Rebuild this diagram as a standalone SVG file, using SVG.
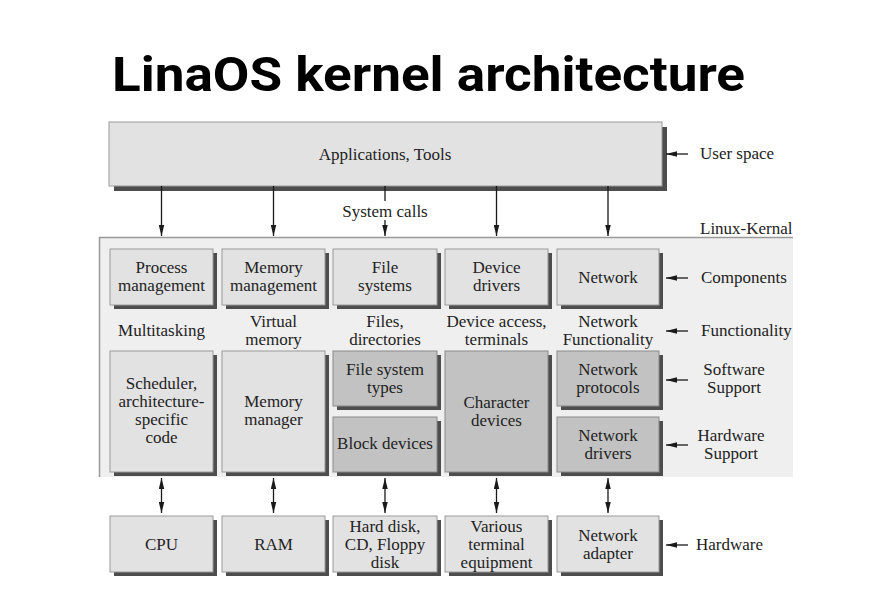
<svg xmlns="http://www.w3.org/2000/svg" width="890" height="603" viewBox="0 0 890 603">
<defs>
<marker id="ah" viewBox="0 0 12 6" markerWidth="11" markerHeight="6" refX="12" refY="3" orient="auto-start-reverse" markerUnits="userSpaceOnUse">
<path d="M0,0 L12,3 L0,6 z" fill="#1a1a1a"/>
</marker>
<style>
.t{font-family:"Liberation Serif","Times New Roman",serif;font-size:17px;fill:#222;text-anchor:middle}
.l{font-family:"Liberation Serif","Times New Roman",serif;font-size:17px;fill:#222}
.sh{fill:#4d4d4d}
.bx{fill:#e2e2e2;stroke:#9a9a9a;stroke-width:1}
.dk{fill:#c2c2c2;stroke:#8a8a8a;stroke-width:1}
.ln{stroke:#1a1a1a;stroke-width:1.3;fill:none}
</style>
</defs>
<rect width="890" height="603" fill="#ffffff"/>
<text x="112" y="91" font-family="Roboto,'Liberation Sans',Arial,sans-serif" font-weight="bold" font-size="49" fill="#000" textLength="633" lengthAdjust="spacingAndGlyphs">LinaOS kernel architecture</text>

<g id="kernel-area">
<rect x="99" y="237" width="694" height="240" fill="#efefef"/>
<path d="M99.5,477 V237.5 H793" stroke="#9a9a9a" stroke-width="1.5" fill="none"/>
<text class="l" x="700" y="234">Linux-Kernal</text>
</g>

<g id="applications">
<rect class="sh" x="114" y="127" width="553" height="64"/>
<rect class="bx" x="109" y="122" width="553" height="64"/>
<text class="t" x="385" y="160">Applications, Tools</text>
</g>

<g id="connectors">
<line class="ln" x1="161.5" y1="186" x2="161.5" y2="236" marker-end="url(#ah)"/>
<line class="ln" x1="273.5" y1="186" x2="273.5" y2="236" marker-end="url(#ah)"/>
<line class="ln" x1="385" y1="186" x2="385" y2="236" marker-end="url(#ah)"/>
<line class="ln" x1="496.5" y1="186" x2="496.5" y2="236" marker-end="url(#ah)"/>
<line class="ln" x1="608" y1="186" x2="608" y2="236" marker-end="url(#ah)"/>
<line class="ln" x1="161.5" y1="478" x2="161.5" y2="513" marker-start="url(#ah)" marker-end="url(#ah)"/>
<line class="ln" x1="273.5" y1="478" x2="273.5" y2="513" marker-start="url(#ah)" marker-end="url(#ah)"/>
<line class="ln" x1="385" y1="478" x2="385" y2="513" marker-start="url(#ah)" marker-end="url(#ah)"/>
<line class="ln" x1="496.5" y1="478" x2="496.5" y2="513" marker-start="url(#ah)" marker-end="url(#ah)"/>
<line class="ln" x1="608" y1="478" x2="608" y2="513" marker-start="url(#ah)" marker-end="url(#ah)"/>
<line class="ln" x1="688" y1="154" x2="666" y2="154" marker-end="url(#ah)"/>
<line class="ln" x1="688" y1="278" x2="666" y2="278" marker-end="url(#ah)"/>
<line class="ln" x1="688" y1="331" x2="666" y2="331" marker-end="url(#ah)"/>
<line class="ln" x1="688" y1="380" x2="666" y2="380" marker-end="url(#ah)"/>
<line class="ln" x1="688" y1="445" x2="666" y2="445" marker-end="url(#ah)"/>
<line class="ln" x1="688" y1="545" x2="666" y2="545" marker-end="url(#ah)"/>
</g>

<g id="system-calls">
<rect x="340" y="201" width="90" height="19" fill="#ffffff"/>
<text class="t" x="385" y="217">System calls</text>
</g>

<g id="process-management">
<rect class="sh" x="114" y="253" width="103" height="56"/>
<rect class="bx" x="110" y="249" width="103" height="56"/>
<text class="t" x="161.5" y="273">Process</text>
<text class="t" x="161.5" y="291">management</text>
</g>
<g id="memory-management">
<rect class="sh" x="226" y="253" width="103" height="56"/>
<rect class="bx" x="222" y="249" width="103" height="56"/>
<text class="t" x="273.5" y="273">Memory</text>
<text class="t" x="273.5" y="291">management</text>
</g>
<g id="file-systems">
<rect class="sh" x="337" y="253" width="104" height="56"/>
<rect class="bx" x="333" y="249" width="104" height="56"/>
<text class="t" x="385" y="273">File</text>
<text class="t" x="385" y="291">systems</text>
</g>
<g id="device-drivers">
<rect class="sh" x="449" y="253" width="103" height="56"/>
<rect class="bx" x="445" y="249" width="103" height="56"/>
<text class="t" x="496.5" y="273">Device</text>
<text class="t" x="496.5" y="291">drivers</text>
</g>
<g id="network">
<rect class="sh" x="561" y="253" width="102" height="56"/>
<rect class="bx" x="557" y="249" width="102" height="56"/>
<text class="t" x="608" y="283">Network</text>
</g>

<g id="functionality-labels">
<text class="t" x="161.5" y="336">Multitasking</text>
<text class="t" x="273.5" y="327">Virtual</text>
<text class="t" x="273.5" y="345">memory</text>
<text class="t" x="385" y="327">Files,</text>
<text class="t" x="385" y="345">directories</text>
<text class="t" x="496.5" y="327">Device access,</text>
<text class="t" x="496.5" y="345">terminals</text>
<text class="t" x="608" y="327">Network</text>
<text class="t" x="608" y="345">Functionality</text>
</g>

<g id="scheduler">
<rect class="sh" x="114" y="355" width="103" height="121"/>
<rect class="bx" x="110" y="351" width="103" height="121"/>
<text class="t" x="161.5" y="389">Scheduler,</text>
<text class="t" x="161.5" y="407">architecture-</text>
<text class="t" x="161.5" y="425">specific</text>
<text class="t" x="161.5" y="443">code</text>
</g>
<g id="memory-manager">
<rect class="sh" x="226" y="355" width="103" height="121"/>
<rect class="bx" x="222" y="351" width="103" height="121"/>
<text class="t" x="273.5" y="407">Memory</text>
<text class="t" x="273.5" y="425">manager</text>
</g>
<g id="file-system-types">
<rect class="sh" x="337" y="355" width="104" height="55"/>
<rect class="dk" x="333" y="351" width="104" height="55"/>
<text class="t" x="385" y="375">File system</text>
<text class="t" x="385" y="393">types</text>
</g>
<g id="block-devices">
<rect class="sh" x="337" y="421" width="104" height="55"/>
<rect class="dk" x="333" y="417" width="104" height="55"/>
<text class="t" x="385" y="449">Block devices</text>
</g>
<g id="character-devices">
<rect class="sh" x="449" y="355" width="103" height="121"/>
<rect class="dk" x="445" y="351" width="103" height="121"/>
<text class="t" x="496.5" y="408">Character</text>
<text class="t" x="496.5" y="426">devices</text>
</g>
<g id="network-protocols">
<rect class="sh" x="561" y="355" width="102" height="55"/>
<rect class="dk" x="557" y="351" width="102" height="55"/>
<text class="t" x="608" y="375">Network</text>
<text class="t" x="608" y="393">protocols</text>
</g>
<g id="network-drivers">
<rect class="sh" x="561" y="421" width="102" height="55"/>
<rect class="dk" x="557" y="417" width="102" height="55"/>
<text class="t" x="608" y="441">Network</text>
<text class="t" x="608" y="459">drivers</text>
</g>

<g id="cpu">
<rect class="sh" x="114" y="520" width="103" height="56"/>
<rect class="bx" x="110" y="516" width="103" height="56"/>
<text class="t" x="161.5" y="550">CPU</text>
</g>
<g id="ram">
<rect class="sh" x="226" y="520" width="103" height="56"/>
<rect class="bx" x="222" y="516" width="103" height="56"/>
<text class="t" x="273.5" y="550">RAM</text>
</g>
<g id="hard-disk">
<rect class="sh" x="337" y="520" width="104" height="56"/>
<rect class="bx" x="333" y="516" width="104" height="56"/>
<text class="t" x="385" y="532">Hard disk,</text>
<text class="t" x="385" y="550">CD, Floppy</text>
<text class="t" x="385" y="568">disk</text>
</g>
<g id="terminal-equipment">
<rect class="sh" x="449" y="520" width="103" height="56"/>
<rect class="bx" x="445" y="516" width="103" height="56"/>
<text class="t" x="496.5" y="532">Various</text>
<text class="t" x="496.5" y="550">terminal</text>
<text class="t" x="496.5" y="568">equipment</text>
</g>
<g id="network-adapter">
<rect class="sh" x="561" y="520" width="102" height="56"/>
<rect class="bx" x="557" y="516" width="102" height="56"/>
<text class="t" x="608" y="541">Network</text>
<text class="t" x="608" y="559">adapter</text>
</g>

<g id="side-labels">
<text class="l" x="700" y="159">User space</text>
<text class="l" x="701" y="283">Components</text>
<text class="l" x="701" y="336">Functionality</text>
<text class="t" x="734" y="375">Software</text>
<text class="t" x="734" y="393">Support</text>
<text class="t" x="731" y="441">Hardware</text>
<text class="t" x="731" y="459">Support</text>
<text class="l" x="696" y="550">Hardware</text>
</g>
</svg>
